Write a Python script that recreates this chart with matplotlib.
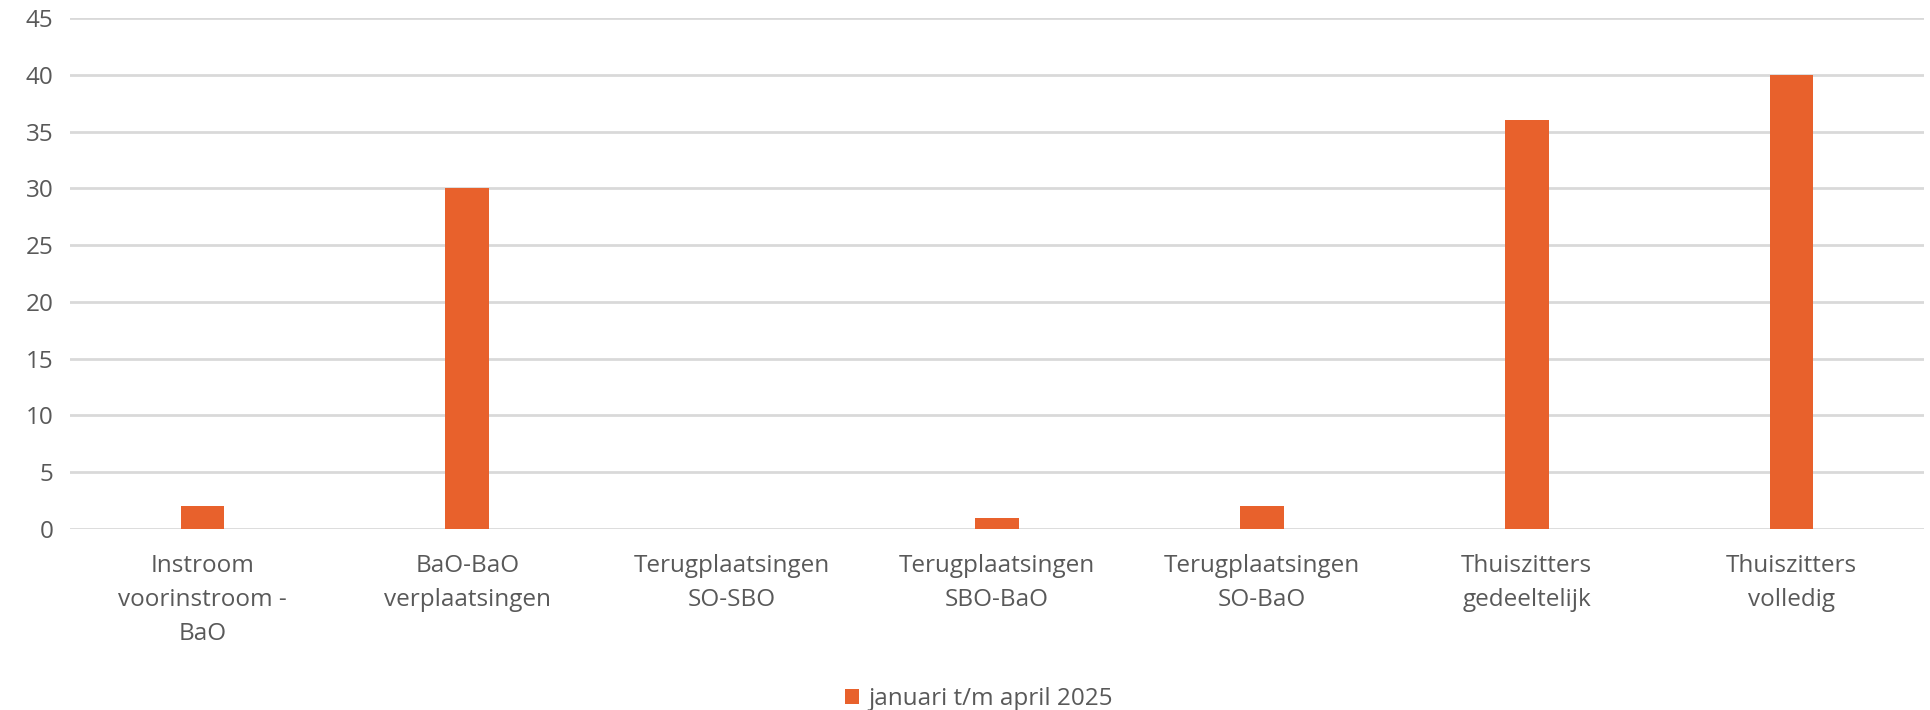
import numpy as np
import matplotlib.pyplot as plt

plt.rcParams['font.family'] = ['Open Sans', 'DejaVu Sans']

categories = ["Instroom\nvoorinstroom -\nBaO", "BaO-BaO\nverplaatsingen",
              "Terugplaatsingen\nSO-SBO", "Terugplaatsingen\nSBO-BaO",
              "Terugplaatsingen\nSO-BaO", "Thuiszitters\ngedeeltelijk",
              "Thuiszitters\nvolledig"]
values = [2, 30, 0, 1, 2, 36, 40]
series_name = "januari t/m april 2025"
yticks = list(range(0, 50, 5))

bar_color = "#E8612C"
text_color = "#595959"
grid_color = "#D9D9D9"

fig = plt.figure(figsize=(19.3, 7.1), dpi=100)
ax = fig.add_axes([0.0363, 0.255, 0.9606, 0.7195])

x = np.arange(len(categories))
ax.bar(x, values, width=0.165, color=bar_color, label=series_name, zorder=3)

ax.set_xlim(-0.5, len(categories) - 0.5)
ax.set_ylim(0, 45)
ax.set_yticks(yticks)
ax.set_xticks(x)
ax.set_xticklabels(categories)
for lbl in ax.get_xticklabels():
    lbl.set_linespacing(1.55)

ax.grid(axis='y', color=grid_color, linewidth=2, zorder=0)
ax.set_axisbelow(True)
for s in ax.spines.values():
    s.set_visible(False)
ax.tick_params(axis='both', length=0, colors=text_color, labelsize=17.5)
ax.tick_params(axis='x', pad=18)
ax.tick_params(axis='y', pad=12)

fig.legend(loc='lower center', bbox_to_anchor=(0.507, -0.032), frameon=False,
           fontsize=17.5, labelcolor=text_color, handlelength=0.6,
           handleheight=0.6, handletextpad=0.35)

fig.savefig("out.png", dpi=100)
